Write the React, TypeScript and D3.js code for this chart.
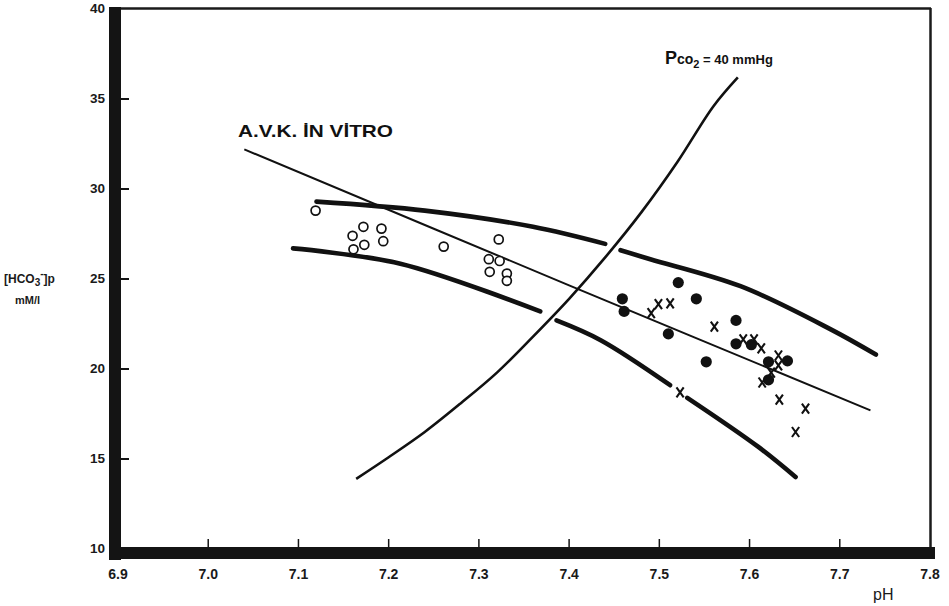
import React from "react";
import * as d3 from "d3";

const W = 949;
const H = 606;

// x axis (pH)
const phTicks = [6.9, 7.0, 7.1, 7.2, 7.3, 7.4, 7.5, 7.6, 7.7, 7.8];
const phTickLabels = ["6.9", "7.0", "7.1", "7.2", "7.3", "7.4", "7.5", "7.6", "7.7", "7.8"];
// y axis ([HCO3-]p mM/l)
const hco3Ticks = [10, 15, 20, 25, 30, 35, 40];

// open circles (AVK in vitro)
const openPH = [7.119, 7.172, 7.16, 7.173, 7.161, 7.192, 7.194, 7.261, 7.322, 7.311, 7.323, 7.312, 7.331, 7.331];
const openHCO3 = [28.8, 27.9, 27.4, 26.9, 26.65, 27.8, 27.1, 26.8, 27.2, 26.1, 26.0, 25.4, 25.3, 24.9];

// filled circles
const filledPH = [7.459, 7.461, 7.521, 7.541, 7.51, 7.585, 7.585, 7.602, 7.552, 7.621, 7.642, 7.621];
const filledHCO3 = [23.9, 23.2, 24.8, 23.9, 21.95, 22.7, 21.4, 21.35, 20.4, 20.4, 20.45, 19.4];

// crosses
const crossPH = [7.499, 7.512, 7.491, 7.561, 7.593, 7.605, 7.613, 7.632, 7.632, 7.624, 7.614, 7.523, 7.633, 7.662, 7.651];
const crossHCO3 = [23.6, 23.65, 23.1, 22.35, 21.65, 21.65, 21.15, 20.75, 20.2, 19.8, 19.25, 18.7, 18.3, 17.8, 16.5];

// PCO2 = 40 mmHg isopleth
const pco2PH = [7.164, 7.2, 7.24, 7.28, 7.32, 7.36, 7.4, 7.44, 7.48, 7.52, 7.56, 7.587];
const pco2HCO3 = [13.9, 15.1, 16.5, 18.1, 19.8, 21.8, 23.9, 26.2, 28.7, 31.5, 34.6, 36.2];

// A.V.K. in vitro line
const avkPH = [7.04, 7.4, 7.734];
const avkHCO3 = [32.2, 24.65, 17.7];

// upper thick curve (two pieces)
const upperPH1 = [7.12, 7.24, 7.36, 7.44];
const upperHCO3_1 = [29.3, 28.8, 27.9, 26.95];
const upperPH2 = [7.457, 7.49, 7.59, 7.69, 7.74];
const upperHCO3_2 = [26.6, 26.1, 24.6, 22.2, 20.8];

// lower thick curve (three pieces)
const lowerPH1 = [7.094, 7.213, 7.368];
const lowerHCO3_1 = [26.7, 25.85, 23.2];
const lowerPH2 = [7.386, 7.435, 7.512];
const lowerHCO3_2 = [22.7, 21.6, 19.1];
const lowerPH3 = [7.531, 7.609, 7.651];
const lowerHCO3_3 = [18.4, 15.7, 14.0];

const x = d3.scaleLinear().domain([6.9, 7.8]).range([118, 930]);
const y = d3.scaleLinear().domain([10, 40]).range([549, 9]);

const zip = (a: number[], b: number[]) => a.map((v, i) => [v, b[i]] as [number, number]);

const line = d3
  .line<[number, number]>()
  .x((d) => x(d[0]))
  .y((d) => y(d[1]))
  .curve(d3.curveCatmullRom.alpha(0.5));

const FONT = "'Liberation Sans', Arial, sans-serif";

export default function App() {
  const crossPath = (cx: number, cy: number) => {
    const w = 3.6;
    const h = 5;
    return `M${cx - w},${cy - h}L${cx + w},${cy + h}M${cx + w},${cy - h}L${cx - w},${cy + h}`;
  };

  return (
    <svg
      width={W}
      height={H}
      style={{ position: "absolute", left: 0, top: 0, background: "#fff" }}
      fontFamily={FONT}
    >
      <rect x={0} y={0} width={W} height={H} fill="#fff" />

      {/* frame */}
      <line x1={118} y1={8.5} x2={931} y2={8.5} stroke="#1a1a1a" strokeWidth={2.5} />
      <line x1={930.5} y1={8} x2={930.5} y2={548} stroke="#1a1a1a" strokeWidth={2.5} />
      <rect x={109} y={7} width={12} height={553} fill="#141414" />
      <rect x={109} y={547} width={826} height={12} fill="#141414" />

      {/* y ticks */}
      {hco3Ticks.map((v) => (
        <g key={"yt" + v}>
          {v > 10 && v < 40 && (
            <line x1={120} x2={129} y1={y(v)} y2={y(v)} stroke="#141414" strokeWidth={2} />
          )}
          <text
            x={105}
            y={y(v)}
            textAnchor="end"
            dominantBaseline="middle"
            fontSize={13.5}
            fontWeight="bold"
            fill="#1a1a1a"
          >
            {v}
          </text>
        </g>
      ))}

      {/* x ticks */}
      {phTicks.map((v, i) => (
        <g key={"xt" + v}>
          {i > 0 && i < phTicks.length - 1 && (
            <line x1={x(v)} x2={x(v)} y1={547} y2={539} stroke="#141414" strokeWidth={1.5} />
          )}
          <text
            x={x(v)}
            y={579}
            textAnchor="middle"
            fontSize={14}
            fontWeight="bold"
            fill="#1a1a1a"
          >
            {phTickLabels[i]}
          </text>
        </g>
      ))}

      {/* axis titles */}
      <text x={873} y={600} fontSize={16} fill="#1a1a1a">
        pH
      </text>
      <text x={4} y={283} fontSize={12} fontWeight="bold" fill="#1a1a1a">
        [HCO
        <tspan fontSize={10} dy={3}>3</tspan>
        <tspan fontSize={10} dy={-9}>-</tspan>
        <tspan dy={6}>]p</tspan>
      </text>
      <text x={15} y={304} fontSize={11} fontWeight="bold" fill="#1a1a1a">
        mM/l
      </text>

      {/* curves */}
      <path d={line(zip(pco2PH, pco2HCO3)) || ""} fill="none" stroke="#111" strokeWidth={2.6} />
      <path d={line(zip(avkPH, avkHCO3)) || ""} fill="none" stroke="#111" strokeWidth={2} />
      {[
        zip(upperPH1, upperHCO3_1),
        zip(upperPH2, upperHCO3_2),
        zip(lowerPH1, lowerHCO3_1),
        zip(lowerPH2, lowerHCO3_2),
        zip(lowerPH3, lowerHCO3_3),
      ].map((pts, i) => (
        <path
          key={"c" + i}
          d={line(pts) || ""}
          fill="none"
          stroke="#111"
          strokeWidth={4.6}
          strokeLinecap="round"
        />
      ))}

      {/* markers */}
      {openPH.map((p, i) => (
        <circle
          key={"o" + i}
          cx={x(p)}
          cy={y(openHCO3[i])}
          r={4.5}
          fill="#fff"
          stroke="#111"
          strokeWidth={1.7}
        />
      ))}
      {filledPH.map((p, i) => (
        <circle key={"f" + i} cx={x(p)} cy={y(filledHCO3[i])} r={5.6} fill="#111" />
      ))}
      {crossPH.map((p, i) => (
        <path
          key={"x" + i}
          d={crossPath(x(p), y(crossHCO3[i]))}
          stroke="#111"
          strokeWidth={2.1}
          fill="none"
        />
      ))}

      {/* annotations */}
      <text
        x={238}
        y={137}
        fontSize={17}
        fontWeight="bold"
        fill="#111"
        textLength={155}
        lengthAdjust="spacingAndGlyphs"
      >
        A.V.K. İN  VİTRO
      </text>
      <text x={665} y={64} fill="#111" fontWeight="bold">
        <tspan fontSize={18}>P</tspan>
        <tspan fontSize={14}>co</tspan>
        <tspan fontSize={11} dy={4}>2</tspan>
        <tspan fontSize={13} dy={-4}> = 40 mmHg</tspan>
      </text>
    </svg>
  );
}
